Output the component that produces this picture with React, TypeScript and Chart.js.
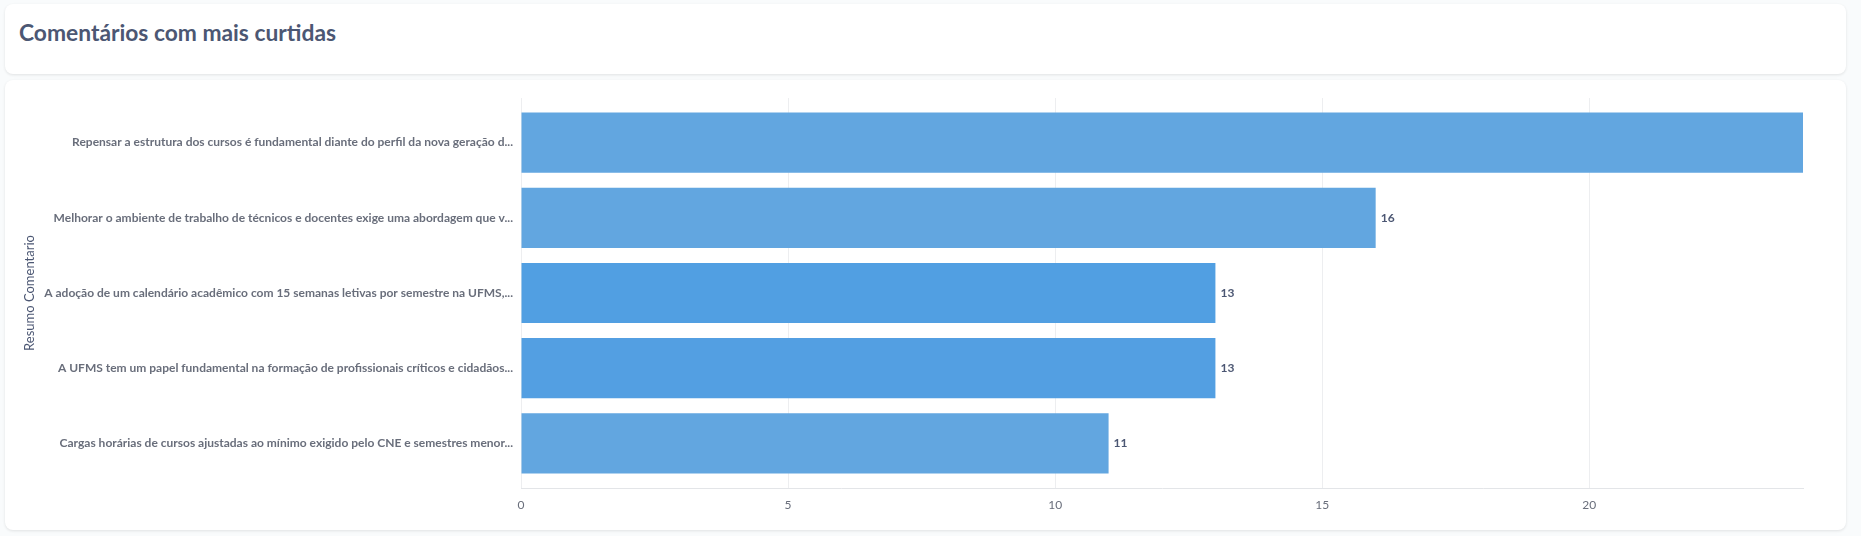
import React, { useEffect, useRef } from "react";
import { Chart, registerables } from "chart.js";

Chart.register(...registerables);

const TITLE = "Comentários com mais curtidas";
const AXIS_TITLE = "Resumo Comentario";

const categories: string[] = [
  "Repensar a estrutura dos cursos é fundamental diante do perfil da nova geração d...",
  "Melhorar o ambiente de trabalho de técnicos e docentes exige uma abordagem que v...",
  "A adoção de um calendário acadêmico com 15 semanas letivas por semestre na UFMS,...",
  "A UFMS tem um papel fundamental na formação de profissionais críticos e cidadãos...",
  "Cargas horárias de cursos ajustadas ao mínimo exigido pelo CNE e semestres menor...",
];

const curtidas: number[] = [24, 16, 13, 13, 11];

const barColors: string[] = ["#62A6E0", "#62A6E0", "#519FE2", "#539FE2", "#62A6E0"];

const xTickStep = 5;

const FONT = "Lato, 'Noto Sans', sans-serif";

export default function App() {
  const canvasRef = useRef<HTMLCanvasElement | null>(null);

  useEffect(() => {
    document.body.style.margin = "0";
    document.body.style.background = "#F9FBFC";
    const canvas = canvasRef.current;
    if (!canvas) return;

    const valueLabels = {
      id: "valueLabels",
      afterDatasetsDraw(chart: any) {
        const { ctx, chartArea } = chart;
        const meta = chart.getDatasetMeta(0);
        ctx.save();
        ctx.font = `700 12px ${FONT}`;
        ctx.fillStyle = "#4C5773";
        ctx.textAlign = "left";
        ctx.textBaseline = "middle";
        meta.data.forEach((bar: any, i: number) => {
          const text = String(curtidas[i]);
          const x = bar.x + 5;
          const w = ctx.measureText(text).width;
          if (x + w > chartArea.right) return;
          ctx.fillText(text, x, bar.y);
        });
        ctx.restore();
      },
    };

    const edgePad = 0.593;

    const chart = new Chart(canvas, {
      type: "bar",
      data: {
        datasets: [
          {
            data: curtidas.map((v, i) => ({ x: v, y: i })),
            backgroundColor: barColors,
            borderWidth: 0,
            categoryPercentage: 0.8,
            barPercentage: 1,
          },
        ],
      },
      plugins: [valueLabels],
      options: {
        indexAxis: "y",
        animation: false,
        responsive: false,
        maintainAspectRatio: false,
        layout: { padding: { top: 18, right: 43, left: 0, bottom: 0 } },
        plugins: {
          legend: { display: false },
          tooltip: { enabled: false },
        },
        scales: {
          x: {
            type: "linear",
            min: 0,
            max: Math.max(...curtidas),
            afterFit: (s: any) => {
              s.height = 42;
            },
            grid: { color: "#EDEEF0", drawTicks: false },
            border: { display: true, color: "#E3E5E8" },
            ticks: {
              stepSize: xTickStep,
              includeBounds: false,
              padding: 10,
              color: "#696E7B",
              font: { family: FONT, size: 12, weight: "400" },
            },
          },
          y: {
            type: "linear",
            reverse: true,
            offset: false,
            min: -edgePad,
            max: categories.length - 1 + edgePad,
            afterFit: (s: any) => {
              s.width = 516;
            },
            title: {
              display: true,
              text: AXIS_TITLE,
              color: "#4C5773",
              font: { family: FONT, size: 13, weight: "400" },
              padding: { top: 17, bottom: 0 },
            },
            grid: { display: false, drawTicks: false, offset: false },
            border: { display: false },
            ticks: {
              stepSize: 1,
              includeBounds: false,
              autoSkip: false,
              padding: 8,
              color: "#696E7B",
              font: { family: FONT, size: 12, weight: "700" },
              callback: (v: any) => {
                const n = Number(v);
                return Number.isInteger(n) && categories[n] ? categories[n] : "";
              },
            },
          },
        },
      },
    } as any);

    return () => chart.destroy();
  }, []);

  return (
    <div style={{ position: "relative", width: 1861, height: 536, background: "#F9FBFC", overflow: "hidden" }}>
      <div
        style={{
          position: "absolute",
          left: 5,
          top: 4,
          width: 1841,
          height: 70,
          background: "#FFFFFF",
          borderRadius: 8,
          boxShadow: "0 1px 3px rgba(0,0,0,0.10)",
        }}
      >
        <div
          style={{
            position: "absolute",
            left: 14,
            top: 14,
            fontFamily: FONT,
            fontWeight: 700,
            fontSize: 22.8,
            lineHeight: "28px",
            color: "#4C5773",
            whiteSpace: "nowrap",
          }}
        >
          {TITLE}
        </div>
      </div>
      <div
        style={{
          position: "absolute",
          left: 5,
          top: 80,
          width: 1841,
          height: 450,
          background: "#FFFFFF",
          borderRadius: 8,
          boxShadow: "0 1px 3px rgba(0,0,0,0.10)",
        }}
      >
        <canvas ref={canvasRef} width={1841} height={450} style={{ display: "block", width: 1841, height: 450 }} />
      </div>
    </div>
  );
}
